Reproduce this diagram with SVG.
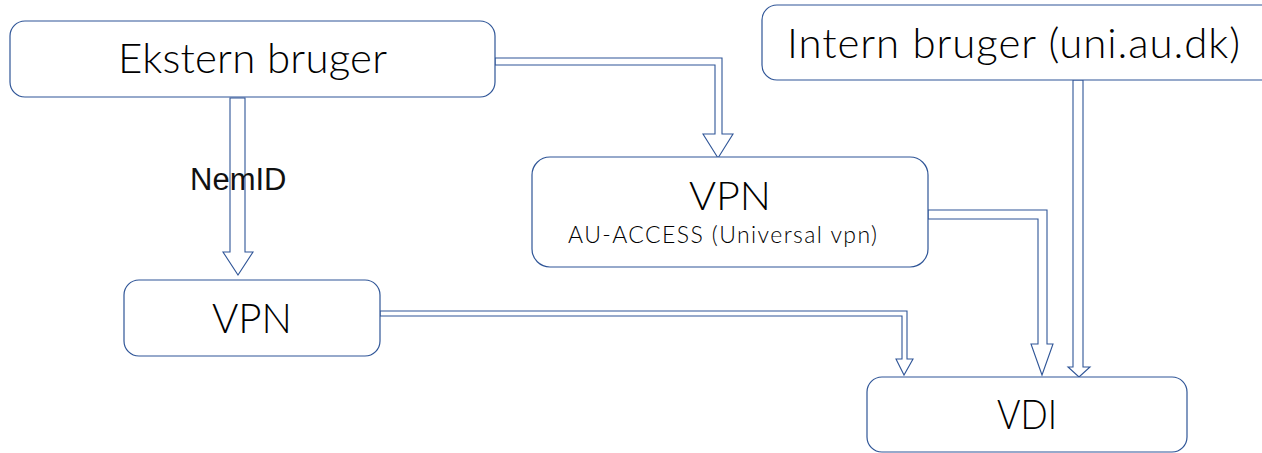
<svg xmlns="http://www.w3.org/2000/svg" width="1262" height="453" viewBox="0 0 1262 453">
<style>
.box{fill:#fff;stroke:#2F5597;stroke-width:1.2}
.arr{fill:#fff;stroke:#2F5597;stroke-width:1.1;stroke-linejoin:miter}
.t{font-family:Lato,"Open Sans","Liberation Sans",sans-serif;font-weight:300;fill:#000;text-anchor:middle}
.lbl{font-family:"Liberation Sans",Arial,sans-serif;font-weight:400;fill:#111;font-size:31px}
</style>
<rect width="1262" height="453" fill="#fff"/>
<g id="connectors">
<polygon class="arr" points="230,98 245,98 245,252 253,252 238,275 223,252 230,252"/>
<polygon class="arr" points="495,58 722,58 722,134 733,134 718,158 703,134 715,134 715,65 495,65"/>
<polygon class="arr" points="1073,80 1083,80 1083,367 1090,367 1079,377 1068,367 1073,367"/>
<polygon class="arr" points="928,210 1047,210 1047,344 1053,344 1042,375 1031,344 1038,344 1038,219 928,219"/>
<polygon class="arr" points="380,311 907,311 907,359 913,359 904,375 896,359 902,359 902,316 380,316"/>
</g>
<g id="ekstern">
<rect class="box" x="10" y="21" width="485" height="76" rx="15"/>
<text class="t" x="252.5" y="73" font-size="42" textLength="269">Ekstern bruger</text>
</g>
<g id="intern">
<rect class="box" x="762" y="5" width="520" height="75" rx="15"/>
<text class="t" x="1013.5" y="58" font-size="42" textLength="453">Intern bruger (uni.au.dk)</text>
</g>
<g id="vpn-left">
<rect class="box" x="124" y="280" width="256" height="76" rx="15"/>
<text class="t" x="252" y="333" font-size="42" textLength="80" lengthAdjust="spacingAndGlyphs">VPN</text>
</g>
<g id="vpn-mid">
<rect class="box" x="532" y="157" width="396" height="110" rx="18"/>
<text class="t" x="730" y="210" font-size="40" textLength="82" lengthAdjust="spacingAndGlyphs">VPN</text>
<text class="t" x="722.5" y="243" font-size="23" textLength="309">AU-ACCESS (Universal vpn)</text>
</g>
<g id="vdi">
<rect class="box" x="867" y="377" width="320" height="75" rx="15"/>
<text class="t" x="1027" y="429" font-size="41" textLength="60" lengthAdjust="spacingAndGlyphs">VDI</text>
</g>
<g id="label-nemid">
<text class="lbl" x="190" y="190">NemID</text>
</g>
</svg>
